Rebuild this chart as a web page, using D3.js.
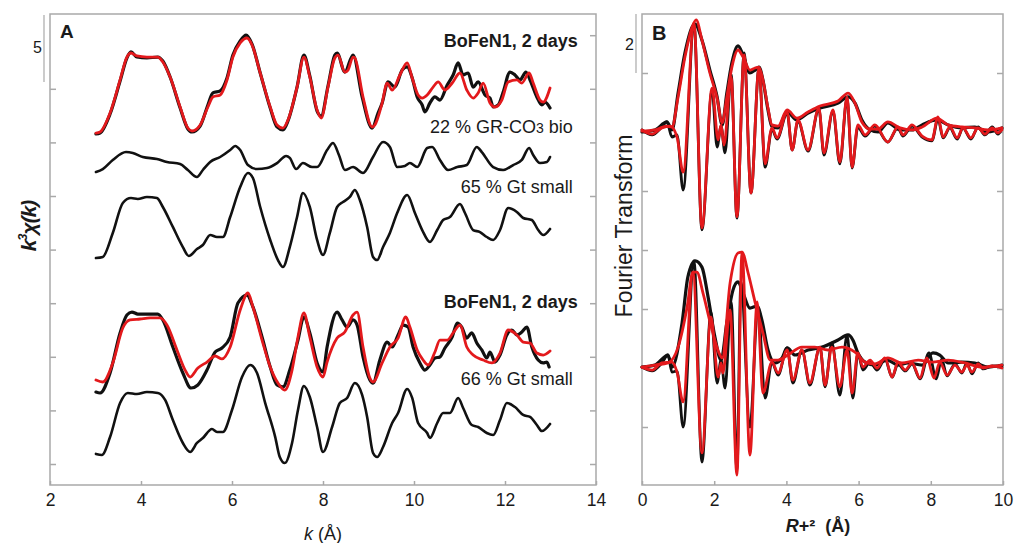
<!DOCTYPE html>
<html>
<head>
<meta charset="utf-8">
<script src="https://cdn.jsdelivr.net/npm/d3@7"></script>
<style>
  body { margin: 0; background: #fff; }
  text { font-family: "Liberation Sans", Arial, Helvetica, sans-serif; fill: #1a1a1a; }
</style>
</head>
<body>
<svg id="chart" width="1014" height="543"></svg>
<script>
// ---- panel A : k^3 chi(k), curves stacked with their offsets ----
const kTicks = [2, 4, 6, 8, 10, 12, 14];
const chiTicks = [0, 4, 8, 12, 16, 20, 24, 28, 32];

const topData = [[3.01,24.63],[3.10,24.70],[3.32,26.12],[3.54,28.58],[3.69,30.30],[3.78,30.75],[3.91,30.37],[4.13,30.30],[4.37,30.37],[4.48,30.07],[4.64,28.88],[4.86,26.57],[5.03,25.00],[5.12,24.78],[5.30,25.22],[5.47,26.79],[5.58,27.69],[5.74,27.84],[5.89,28.81],[6.02,30.52],[6.18,31.57],[6.31,32.01],[6.44,31.34],[6.62,29.18],[6.84,26.57],[6.99,25.15],[7.12,24.93],[7.23,25.60],[7.43,28.13],[7.58,30.52],[7.71,28.96],[7.87,26.34],[7.96,25.97],[8.11,28.21],[8.26,30.52],[8.31,30.67],[8.48,29.25],[8.66,30.52],[8.86,27.39],[9.08,25.07],[9.21,26.19],[9.30,26.94],[9.43,28.51],[9.58,28.13],[9.74,29.40],[9.85,29.63],[9.96,28.81],[10.07,27.39],[10.18,26.79],[10.24,26.27],[10.35,26.94],[10.46,27.39],[10.57,27.16],[10.73,28.28],[10.86,29.03],[10.97,29.93],[11.08,29.03],[11.19,29.18],[11.30,28.13],[11.41,28.51],[11.56,27.54],[11.67,27.31],[11.74,26.64],[11.85,26.79],[11.96,27.76],[12.11,29.25],[12.22,29.03],[12.33,28.66],[12.46,29.25],[12.55,28.66],[12.70,27.39],[12.81,26.79],[12.88,27.01],[12.99,26.57]];
const topFit = [[3.01,24.70],[3.10,24.78],[3.32,26.19],[3.54,28.66],[3.69,30.37],[3.78,30.67],[3.91,30.45],[4.13,30.37],[4.37,30.37],[4.48,30.00],[4.64,28.88],[4.86,26.64],[5.03,25.07],[5.12,24.85],[5.30,25.30],[5.47,26.64],[5.58,27.39],[5.74,27.54],[5.89,28.66],[6.02,30.37],[6.18,31.42],[6.33,31.79],[6.44,31.27],[6.62,29.18],[6.84,26.64],[6.99,25.30],[7.12,25.07],[7.23,25.67],[7.43,28.13],[7.58,30.37],[7.71,28.88],[7.87,26.42],[7.96,25.82],[8.11,28.13],[8.26,30.30],[8.33,30.52],[8.48,29.25],[8.55,29.40],[8.66,30.37],[8.70,30.30],[8.88,27.39],[9.08,25.15],[9.14,25.30],[9.30,26.94],[9.41,28.43],[9.52,27.91],[9.69,29.03],[9.85,29.93],[9.96,28.81],[10.09,27.54],[10.18,27.31],[10.29,27.54],[10.42,28.13],[10.53,28.51],[10.68,27.91],[10.84,28.43],[11.01,29.18],[11.16,27.91],[11.30,27.31],[11.41,27.69],[11.52,28.43],[11.67,26.94],[11.78,26.64],[11.93,27.16],[12.07,28.51],[12.26,28.66],[12.37,28.43],[12.53,29.18],[12.62,28.43],[12.77,27.16],[12.84,27.01],[12.99,28.06]];
const grBio = [[3.01,21.79],[3.16,22.01],[3.38,22.69],[3.67,23.28],[3.82,23.21],[4.04,22.91],[4.35,22.76],[4.57,22.54],[4.86,22.39],[5.03,21.94],[5.23,21.42],[5.36,21.94],[5.52,22.54],[5.74,22.91],[5.96,23.43],[6.07,23.73],[6.18,23.43],[6.35,22.31],[6.55,22.01],[6.77,22.09],[6.99,22.46],[7.19,22.99],[7.27,22.84],[7.41,22.01],[7.56,22.46],[7.76,22.16],[7.87,22.16],[8.09,23.43],[8.22,23.96],[8.35,23.06],[8.48,21.94],[8.66,22.16],[8.88,21.72],[9.10,22.91],[9.32,24.03],[9.47,23.66],[9.63,22.16],[9.80,22.24],[9.91,22.46],[10.07,22.16],[10.29,23.58],[10.40,23.66],[10.57,22.69],[10.75,21.94],[10.95,22.16],[11.16,22.31],[11.38,23.66],[11.49,23.28],[11.74,22.16],[11.96,21.94],[12.18,22.31],[12.37,22.69],[12.53,23.58],[12.62,23.06],[12.77,22.46],[12.92,22.54],[12.99,22.91]];
const gtSmallTop = [[3.01,15.37],[3.16,15.45],[3.38,17.24],[3.60,19.48],[3.78,19.85],[3.93,19.78],[4.13,19.93],[4.35,19.85],[4.48,19.18],[4.70,17.69],[4.92,16.19],[5.05,15.52],[5.23,16.04],[5.36,16.34],[5.52,17.09],[5.67,16.94],[5.80,16.94],[5.96,18.43],[6.18,20.67],[6.35,21.72],[6.46,21.34],[6.62,19.18],[6.84,16.72],[7.01,15.22],[7.12,14.70],[7.27,16.19],[7.43,18.43],[7.56,20.22],[7.71,19.18],[7.87,16.72],[8.00,15.60],[8.15,17.24],[8.31,19.18],[8.44,19.55],[8.59,19.93],[8.70,20.45],[8.81,19.70],[8.97,17.69],[9.10,15.45],[9.19,15.22],[9.32,16.19],[9.47,17.24],[9.63,18.73],[9.85,20.07],[10.02,18.73],[10.18,17.46],[10.35,16.57],[10.51,17.46],[10.64,18.21],[10.79,18.43],[11.01,19.40],[11.12,18.73],[11.30,17.46],[11.45,17.31],[11.60,16.94],[11.74,16.72],[11.89,17.46],[12.07,19.10],[12.26,18.81],[12.40,18.36],[12.59,18.21],[12.73,17.46],[12.84,17.09],[12.99,17.54]];
const botData = [[3.01,5.37],[3.10,5.30],[3.32,6.79],[3.54,9.78],[3.69,11.12],[3.80,11.34],[3.93,11.19],[4.13,11.19],[4.37,11.19],[4.48,10.75],[4.70,8.73],[4.92,6.79],[5.10,5.67],[5.25,5.90],[5.45,7.01],[5.63,8.36],[5.78,8.66],[5.96,9.48],[6.13,12.01],[6.33,12.61],[6.46,11.72],[6.66,9.48],[6.84,7.24],[6.99,5.90],[7.12,5.75],[7.27,7.01],[7.45,9.25],[7.58,10.97],[7.71,9.78],[7.87,7.54],[8.00,6.87],[8.09,8.73],[8.31,11.34],[8.42,10.75],[8.53,10.22],[8.66,10.75],[8.75,10.37],[8.88,7.99],[9.03,6.27],[9.10,6.04],[9.25,7.76],[9.41,9.10],[9.52,8.73],[9.65,9.63],[9.76,10.37],[9.87,10.22],[9.98,8.73],[10.13,7.54],[10.24,7.01],[10.35,7.39],[10.46,7.91],[10.57,7.99],[10.68,8.66],[10.84,9.48],[10.95,10.52],[11.05,10.22],[11.16,9.40],[11.27,9.78],[11.38,9.03],[11.49,8.51],[11.60,7.91],[11.67,8.36],[11.78,7.61],[11.89,8.13],[12.04,9.63],[12.15,10.00],[12.26,9.63],[12.37,9.85],[12.48,10.22],[12.59,8.73],[12.73,7.76],[12.84,7.54],[12.92,7.61],[12.97,7.24]];
const botFit = [[3.01,6.27],[3.16,6.12],[3.38,7.54],[3.60,10.15],[3.76,10.75],[3.98,10.82],[4.20,10.90],[4.42,10.90],[4.57,10.37],[4.79,8.51],[4.97,7.01],[5.08,6.49],[5.25,7.16],[5.45,7.61],[5.63,8.06],[5.78,7.84],[5.96,8.73],[6.18,11.49],[6.35,12.76],[6.46,11.72],[6.66,9.25],[6.84,7.24],[7.01,6.04],[7.16,5.52],[7.32,7.01],[7.45,9.48],[7.58,11.27],[7.71,9.48],[7.87,7.24],[8.00,6.49],[8.09,7.61],[8.31,9.40],[8.48,9.85],[8.66,11.12],[8.75,11.34],[8.88,8.73],[9.03,6.42],[9.10,6.12],[9.30,7.54],[9.47,8.73],[9.65,9.40],[9.82,10.97],[9.91,10.22],[10.07,8.51],[10.20,7.76],[10.31,7.39],[10.46,8.36],[10.57,9.25],[10.73,9.25],[10.86,9.78],[11.01,10.37],[11.16,8.73],[11.30,8.13],[11.52,7.76],[11.71,7.54],[11.89,8.28],[12.07,10.00],[12.26,9.63],[12.40,9.10],[12.55,9.03],[12.70,8.28],[12.84,8.13],[12.99,8.43]];
const gtSmallBot = [[3.01,0.75],[3.14,0.67],[3.32,2.01],[3.54,4.55],[3.71,5.30],[3.91,5.22],[4.13,5.37],[4.37,5.30],[4.53,4.78],[4.70,3.28],[4.92,1.57],[5.08,0.90],[5.23,1.57],[5.36,1.94],[5.56,2.61],[5.67,2.39],[5.80,2.39],[6.00,4.03],[6.22,6.49],[6.40,7.39],[6.55,6.79],[6.73,4.55],[6.95,2.01],[7.05,0.52],[7.16,0.07],[7.32,1.57],[7.45,4.03],[7.58,5.82],[7.71,5.00],[7.87,2.76],[8.00,0.90],[8.20,2.76],[8.37,4.55],[8.53,4.93],[8.70,6.04],[8.86,5.15],[8.97,3.51],[9.10,0.82],[9.19,0.52],[9.32,1.27],[9.52,3.06],[9.65,3.81],[9.85,5.60],[9.96,4.93],[10.09,3.06],[10.29,2.31],[10.35,1.94],[10.51,3.06],[10.64,3.81],[10.79,3.81],[10.97,4.93],[11.08,4.18],[11.27,2.91],[11.41,2.76],[11.60,2.31],[11.74,2.16],[11.89,3.28],[12.04,4.55],[12.22,4.25],[12.40,3.66],[12.55,3.51],[12.70,2.91],[12.81,2.46],[12.99,2.99]];

// ---- panel B : Fourier transforms (magnitude and imaginary part), stacked ----
const rTicks = [0, 2, 4, 6, 8, 10];
const ftTicks = [0, 2, 4, 6, 8, 10, 12];

const topMagData = [[0,10.00],[0.36,10.07],[0.69,10.34],[0.83,10.07],[1.00,11.32],[1.19,12.68],[1.39,13.56],[1.47,13.66],[1.66,13.12],[1.88,12.10],[2.08,11.19],[2.22,10.24],[2.35,11.32],[2.49,12.34],[2.66,12.92],[2.80,12.61],[2.99,12.00],[3.13,12.10],[3.24,12.20],[3.35,11.76],[3.49,10.75],[3.60,10.17],[3.77,10.14],[4.02,10.68],[4.29,10.41],[4.60,10.64],[4.93,10.81],[5.43,10.98],[5.71,11.19],[5.90,10.98],[6.09,10.41],[6.32,10.07],[6.54,10.00],[6.81,10.31],[7.15,10.07],[7.48,10.07],[7.76,10.24],[8.17,10.41],[8.48,10.24],[8.86,10.14],[9.22,10.17],[9.58,10.00],[9.97,10.14]];
const topMagFit = [[0,10.03],[0.36,10.07],[0.69,10.20],[0.83,10.17],[1.00,11.19],[1.19,12.54],[1.39,13.56],[1.50,13.80],[1.66,13.12],[1.88,12.00],[2.08,11.15],[2.22,10.31],[2.35,11.19],[2.49,12.20],[2.66,12.78],[2.80,12.54],[2.99,12.10],[3.13,12.17],[3.24,12.20],[3.35,11.76],[3.49,10.81],[3.60,10.24],[3.77,10.20],[4.02,10.75],[4.29,10.47],[4.60,10.68],[4.93,10.88],[5.43,11.05],[5.71,11.32],[5.90,10.98],[6.09,10.34],[6.32,10.10],[6.54,10.10],[6.81,10.34],[7.15,10.14],[7.48,10.07],[7.76,10.17],[8.17,10.47],[8.48,10.24],[8.86,10.17],[9.22,10.14],[9.58,10.07],[9.97,10.14]];
const topImData = [[0,10.07],[0.28,9.90],[0.55,10.17],[0.69,10.34],[0.83,9.83],[0.97,9.90],[1.14,8.03],[1.44,13.66],[1.66,6.68],[1.94,11.40],[2.08,9.49],[2.19,10.20],[2.30,9.29],[2.47,11.95],[2.63,7.08],[2.83,12.68],[3.02,7.93],[3.24,12.17],[3.41,8.81],[3.60,10.10],[3.74,9.76],[4.02,10.64],[4.16,9.39],[4.32,10.38],[4.60,9.35],[4.90,10.78],[5.04,9.22],[5.29,10.71],[5.48,8.92],[5.68,11.15],[5.82,8.78],[5.98,10.17],[6.18,9.86],[6.45,10.20],[6.81,9.66],[7.09,10.14],[7.23,9.86],[7.48,10.20],[7.76,9.83],[8.03,9.70],[8.20,10.44],[8.34,9.80],[8.53,10.14],[8.73,9.76],[8.89,10.14],[9.11,9.76],[9.31,10.17],[9.50,9.90],[9.70,10.17],[9.86,9.93],[9.97,10.10]];
const topImFit = [[0,10.07],[0.28,9.93],[0.55,10.14],[0.78,10.20],[0.97,9.83],[1.14,8.64],[1.44,13.69],[1.66,6.75],[1.94,11.49],[2.11,9.73],[2.19,10.24],[2.27,9.56],[2.47,11.86],[2.63,7.12],[2.83,12.61],[3.02,7.93],[3.24,12.17],[3.41,8.92],[3.60,10.14],[3.74,9.80],[4.02,10.68],[4.16,9.39],[4.32,10.41],[4.60,9.39],[4.90,10.81],[5.04,9.29],[5.29,10.75],[5.48,8.98],[5.68,11.19],[5.82,8.81],[5.98,10.24],[6.18,9.90],[6.45,10.24],[6.81,9.66],[7.09,10.17],[7.23,9.90],[7.48,10.24],[7.76,9.86],[8.03,9.73],[8.20,10.51],[8.34,9.83],[8.53,10.17],[8.73,9.80],[8.89,10.14],[9.11,9.80],[9.31,10.14],[9.50,9.93],[9.70,10.14],[9.86,9.97],[9.97,10.07]];

const botMagData = [[0,2.03],[0.36,2.10],[0.72,2.44],[0.83,2.03],[1.11,3.53],[1.27,5.08],[1.47,5.63],[1.66,5.42],[1.83,4.41],[2.02,3.05],[2.19,2.27],[2.35,3.53],[2.52,4.64],[2.66,4.92],[2.80,4.54],[2.99,4.03],[3.19,4.10],[3.32,3.63],[3.49,2.61],[3.68,2.17],[3.88,2.34],[4.02,2.68],[4.24,2.44],[4.60,2.61],[4.99,2.71],[5.43,2.95],[5.71,3.12],[5.84,2.95],[5.98,2.51],[6.18,2.20],[6.45,2.10],[6.79,2.27],[7.09,2.10],[7.37,2.17],[7.76,2.10],[8.06,2.51],[8.25,2.44],[8.48,2.17],[8.86,2.20],[9.22,2.17],[9.58,2.03],[9.97,2.10]];
const botMagFit = [[0,2.03],[0.36,2.10],[0.72,2.17],[1.00,2.71],[1.25,4.07],[1.41,5.25],[1.52,5.25],[1.69,4.54],[1.94,3.29],[2.16,2.44],[2.22,2.34],[2.44,4.88],[2.66,5.90],[2.77,5.93],[2.94,5.22],[3.13,4.24],[3.35,3.19],[3.55,2.27],[3.77,2.27],[4.04,2.44],[4.43,2.71],[4.79,2.71],[5.15,2.61],[5.54,2.71],[5.90,2.54],[6.18,2.20],[6.45,2.14],[6.81,2.34],[7.20,2.17],[7.65,2.27],[8.03,2.20],[8.48,2.27],[8.95,2.17],[9.42,2.03],[9.97,2.10]];
const botImData = [[0,2.03],[0.28,1.90],[0.55,2.17],[0.72,2.44],[0.83,1.86],[0.97,1.90],[1.14,0.00],[1.44,5.63],[1.66,-1.19],[1.91,3.90],[2.08,1.49],[2.19,2.27],[2.30,1.32],[2.47,4.24],[2.63,-1.46],[2.74,4.92],[2.99,0.00],[3.21,4.07],[3.41,0.98],[3.60,2.20],[3.77,1.76],[4.02,2.68],[4.18,1.49],[4.43,2.61],[4.65,1.42],[4.93,2.71],[5.07,1.36],[5.26,2.85],[5.48,1.08],[5.68,3.12],[5.84,0.98],[5.98,2.51],[6.12,1.93],[6.32,2.20],[6.51,1.93],[6.73,2.30],[6.93,1.69],[7.09,2.14],[7.29,1.90],[7.48,2.14],[7.70,1.63],[7.95,2.51],[8.15,1.63],[8.30,2.30],[8.45,1.73],[8.67,2.14],[8.86,1.83],[9.00,2.17],[9.14,1.80],[9.31,2.17],[9.45,1.97],[9.70,2.07],[9.97,2.03]];
const botImFit = [[0,2.03],[0.28,1.93],[0.55,2.17],[0.83,2.20],[0.97,1.86],[1.14,0.85],[1.41,5.25],[1.66,-0.88],[1.91,3.73],[2.11,1.69],[2.19,2.17],[2.24,1.83],[2.44,3.97],[2.63,-1.63],[2.77,5.93],[2.99,-0.95],[3.19,4.24],[3.35,1.15],[3.60,2.20],[3.77,1.83],[4.02,2.61],[4.18,1.59],[4.43,2.61],[4.65,1.49],[4.93,2.71],[5.07,1.42],[5.26,2.71],[5.48,1.36],[5.68,2.61],[5.82,1.15],[5.98,2.51],[6.12,2.03],[6.32,2.27],[6.51,2.00],[6.73,2.34],[6.93,1.69],[7.09,2.20],[7.29,1.93],[7.48,2.17],[7.70,1.66],[7.89,2.34],[8.09,1.66],[8.25,2.20],[8.45,1.76],[8.67,2.10],[8.86,1.86],[9.00,2.10],[9.14,1.86],[9.31,2.14],[9.45,2.00],[9.70,2.07],[9.97,2.00]];

const labelsA = [
  { text: "BoFeN1, 2 days", k: 13.6, v: 31.1, bold: true },
  { text: "22 % GR-CO", sub: "3", tail: " bio", k: 13.49, v: 24.7 },
  { text: "65 % Gt small", k: 13.49, v: 20.22 },
  { text: "BoFeN1, 2 days", k: 13.6, v: 11.64, bold: true },
  { text: "66 % Gt small", k: 13.49, v: 5.9 }
];

const BLACK = "#111";
const RED = "#e3191c";
const FRAME = "#a9a9a9";

const svg = d3.select('#chart');

const xA = d3.scaleLinear().domain([2, 14]).range([50, 596]);
const yA = d3.scaleLinear().domain([-1.567, 33.582]).range([485, 14]);
const xB = d3.scaleLinear().domain([0, 10]).range([642, 1003]);
const yB = d3.scaleLinear().domain([-1.966, 14.0]).range([485, 14]);

function frame(x, y, leftTicks, rightTicks, bottomTicks) {
  const g = svg.append('g');
  const [x0, x1] = x.range();
  const [y0, y1] = y.range();

  g.append('g')
    .attr('transform', `translate(${x0},0)`)
    .call(d3.axisLeft(y).tickValues(leftTicks).tickSize(-6).tickFormat(''));
  g.append('g')
    .attr('transform', `translate(${x1},0)`)
    .call(d3.axisRight(y).tickValues(rightTicks).tickSize(-6).tickFormat(''));
  g.append('g')
    .attr('transform', `translate(0,${y0})`)
    .call(d3.axisBottom(x).tickValues(bottomTicks).tickSize(-4).tickPadding(9));

  g.selectAll('.domain').remove();
  g.selectAll('.tick line').attr('stroke', FRAME).attr('stroke-width', 1.5);
  g.selectAll('.tick text')
    .style('font-size', '17.5px')
    .style('font-family', '"Liberation Sans", Arial, sans-serif')
    .attr('fill', '#1a1a1a');

  g.append('rect')
    .attr('x', x0).attr('y', y1)
    .attr('width', x1 - x0).attr('height', y0 - y1)
    .attr('fill', 'none')
    .attr('stroke', FRAME)
    .attr('stroke-width', 1.5);
  return g;
}

frame(xA, yA, chiTicks.slice(0, -1), chiTicks, kTicks);
frame(xB, yB, ftTicks, ftTicks, rTicks);

function drawCurve(x, y, data, color, width) {
  const line = d3.line()
    .x(d => x(d[0]))
    .y(d => y(d[1]))
    .curve(d3.curveMonotoneX);
  svg.append('path')
    .datum(data)
    .attr('d', line)
    .attr('fill', 'none')
    .attr('stroke', color)
    .attr('stroke-width', width)
    .attr('stroke-linejoin', 'round')
    .attr('stroke-linecap', 'round');
}

// panel A curves
drawCurve(xA, yA, topData, BLACK, 3.2);
drawCurve(xA, yA, topFit, RED, 2.8);
drawCurve(xA, yA, grBio, BLACK, 2.6);
drawCurve(xA, yA, gtSmallTop, BLACK, 2.6);
drawCurve(xA, yA, botData, BLACK, 3.2);
drawCurve(xA, yA, botFit, RED, 2.8);
drawCurve(xA, yA, gtSmallBot, BLACK, 2.6);

// panel B curves: data in black below, fit in red on top
drawCurve(xB, yB, topImData, BLACK, 2.8);
drawCurve(xB, yB, topMagData, BLACK, 3.2);
drawCurve(xB, yB, topImFit, RED, 2.8);
drawCurve(xB, yB, topMagFit, RED, 2.8);
drawCurve(xB, yB, botImData, BLACK, 2.8);
drawCurve(xB, yB, botMagData, BLACK, 3.2);
drawCurve(xB, yB, botImFit, RED, 2.8);
drawCurve(xB, yB, botMagFit, RED, 2.8);

// curve labels in panel A
labelsA.forEach(l => {
  const t = svg.append('text')
    .attr('x', xA(l.k))
    .attr('y', yA(l.v))
    .attr('text-anchor', 'end')
    .style('font-size', '18px')
    .style('font-weight', l.bold ? 'bold' : 'normal');
  t.append('tspan').text(l.text);
  if (l.sub) {
    t.append('tspan').style('font-size', '14px').text(l.sub);
    t.append('tspan').text(l.tail);
  }
});

// scale bars
svg.append('line')
  .attr('x1', 44).attr('x2', 44)
  .attr('y1', yA(33.5)).attr('y2', yA(28.5))
  .attr('stroke', FRAME).attr('stroke-width', 1.2);
svg.append('text')
  .attr('x', 42).attr('y', 53)
  .attr('text-anchor', 'end')
  .style('font-size', '16px')
  .text('5');

svg.append('line')
  .attr('x1', 636).attr('x2', 636)
  .attr('y1', yB(14)).attr('y2', yB(12))
  .attr('stroke', FRAME).attr('stroke-width', 1.2);
svg.append('text')
  .attr('x', 634).attr('y', 50)
  .attr('text-anchor', 'end')
  .style('font-size', '16px')
  .text('2');

// panel letters
svg.append('text').attr('x', 60).attr('y', 38)
  .style('font-size', '19px').style('font-weight', 'bold').text('A');
svg.append('text').attr('x', 652).attr('y', 40)
  .style('font-size', '20px').style('font-weight', 'bold').text('B');

// axis titles
const kTitle = svg.append('text')
  .attr('x', 323).attr('y', 540)
  .attr('text-anchor', 'middle')
  .style('font-size', '18px');
kTitle.append('tspan').style('font-style', 'italic').text('k');
kTitle.append('tspan').text(' (Å)');

const rTitle = svg.append('text')
  .attr('x', 818).attr('y', 532)
  .attr('text-anchor', 'middle')
  .style('font-size', '18px')
  .style('font-weight', 'bold');
rTitle.append('tspan').style('font-style', 'italic').text('R');
rTitle.append('tspan').text('+²\u00a0\u00a0(Å)');

const chiTitle = svg.append('text')
  .attr('transform', 'translate(36,226) rotate(-90)')
  .attr('text-anchor', 'middle')
  .style('font-size', '21px')
  .style('font-weight', 'bold')
  .style('font-style', 'italic')
  .style('letter-spacing', '-1px');
chiTitle.append('tspan').text('k');
chiTitle.append('tspan').attr('dy', -9).style('font-size', '13px').text('3');
chiTitle.append('tspan').attr('dy', 9).text('χ(k)');

svg.append('text')
  .attr('transform', 'translate(632,226) rotate(-90)')
  .attr('text-anchor', 'middle')
  .style('font-size', '23px')
  .text('Fourier Transform');
</script>
</body>
</html>
